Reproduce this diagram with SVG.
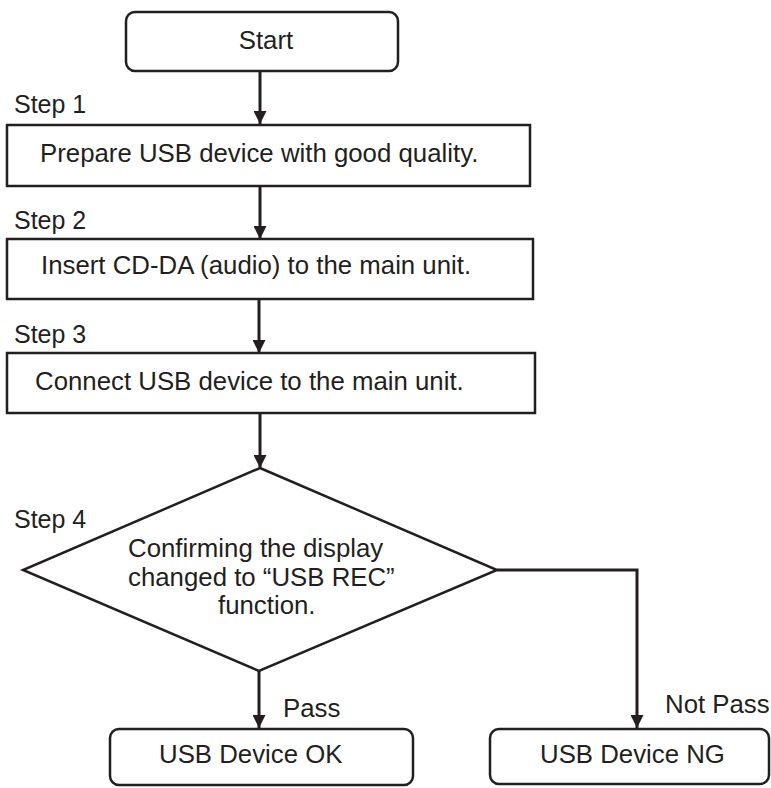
<svg xmlns="http://www.w3.org/2000/svg" width="771" height="788" viewBox="0 0 771 788">
<defs>
<marker id="arr" viewBox="0 0 10 10" refX="10" refY="5" markerWidth="13" markerHeight="13" markerUnits="userSpaceOnUse" orient="auto">
<path d="M0,0 L10,5 L0,10 Z" fill="#231f20"/>
</marker>
<style>
.box{fill:#fff;stroke:#231f20;stroke-width:2.5}
.t{font-family:"Liberation Sans",Arial,sans-serif;font-size:25.8px;fill:#231f20}
.s{font-family:"Liberation Sans",Arial,sans-serif;font-size:25px;fill:#231f20}
.c{fill:none;stroke:#231f20;stroke-width:3}
</style>
</defs>
<rect width="771" height="788" fill="#fff"/>
<g id="connectors">
<line class="c" x1="260" y1="71" x2="260" y2="124" marker-end="url(#arr)"/>
<line class="c" x1="260" y1="186" x2="260" y2="239" marker-end="url(#arr)"/>
<line class="c" x1="259" y1="299" x2="259" y2="353" marker-end="url(#arr)"/>
<line class="c" x1="260" y1="413" x2="260" y2="468" marker-end="url(#arr)"/>
<line class="c" x1="259" y1="671" x2="259" y2="728" marker-end="url(#arr)"/>
<polyline class="c" points="497,570 637,570 637,728" marker-end="url(#arr)"/>
<text class="t" x="283" y="717">Pass</text>
<text class="t" x="665" y="713">Not Pass</text>
</g>
<g id="start">
<rect class="box" x="126" y="12" width="272" height="59" rx="9"/>
<text class="t" x="266" y="49" text-anchor="middle">Start</text>
</g>
<g id="step1">
<text class="s" x="14" y="113">Step 1</text>
<rect class="box" x="7" y="125" width="523" height="61"/>
<text class="t" x="40" y="162">Prepare USB device with good quality.</text>
</g>
<g id="step2">
<text class="s" x="14" y="229">Step 2</text>
<rect class="box" x="7" y="239" width="526" height="60"/>
<text class="t" x="41" y="274">Insert CD-DA (audio) to the main unit.</text>
</g>
<g id="step3">
<text class="s" x="14" y="343">Step 3</text>
<rect class="box" x="7" y="353" width="528" height="60"/>
<text class="t" x="35" y="390">Connect USB device to the main unit.</text>
</g>
<g id="step4">
<text class="s" x="14" y="528">Step 4</text>
<polygon class="box" points="260,468 497,570 259,671 23,570"/>
<text class="t" x="128" y="557">Confirming the display</text>
<text class="t" x="128" y="586">changed to “USB REC”</text>
<text class="t" x="218" y="614">function.</text>
</g>
<g id="ok">
<rect class="box" x="110" y="729" width="303" height="56" rx="9"/>
<text class="t" x="159" y="763">USB Device OK</text>
</g>
<g id="ng">
<rect class="box" x="490" y="729" width="279" height="55" rx="9"/>
<text class="t" x="540" y="763">USB Device NG</text>
</g>
</svg>
